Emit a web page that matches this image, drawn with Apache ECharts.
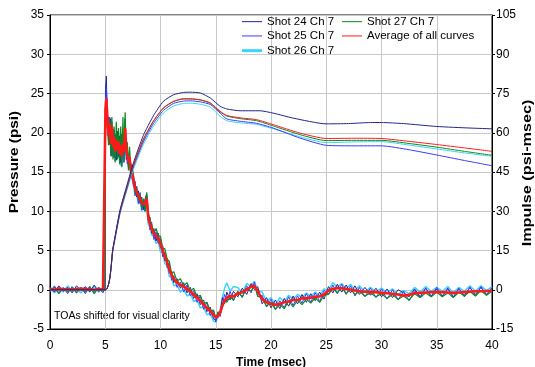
<!DOCTYPE html>
<html>
<head>
<meta charset="utf-8">
<script src="https://cdn.jsdelivr.net/npm/echarts@6/dist/echarts.min.js"></script>
<style>
  html, body { margin: 0; padding: 0; background: #fff; }
  #chart { width: 535px; height: 367px; }
</style>
</head>
<body>
<div id="chart"></div>
<script>
// time base (msec) shared by the pressure traces
const pTime = [
  0, 0.4, 0.8, 1.2, 1.6, 2.0, 2.4, 2.8, 3.2, 3.6, 4.0, 4.4, 4.8, 4.98,
  5.02, 5.1, 5.2, 5.3, 5.4, 5.5, 5.6, 5.7, 5.8, 5.9,
  6.0, 6.1, 6.2, 6.3, 6.4, 6.5, 6.6, 6.7, 6.8, 6.9,
  7.0, 7.1, 7.2, 7.3, 7.4,
  7.55, 7.7, 7.85, 8.0, 8.15, 8.3, 8.45, 8.6, 8.75, 8.9,
  9.05, 9.2, 9.4, 9.6, 9.8, 10.0, 10.2, 10.4, 10.6, 10.8,
  11.0, 11.2, 11.5, 11.8, 12.1, 12.4, 12.7, 13.0, 13.3, 13.6,
  13.9, 14.2, 14.5, 14.8, 15.0, 15.2, 15.4, 15.6, 15.8, 16.0,
  16.3, 16.6,
  17.0, 17.4, 17.8, 18.2, 18.5, 18.8, 19.2, 19.6, 20.0, 20.4,
  20.8, 21.2, 21.6, 22.0, 22.4, 22.8, 23.2, 23.6, 24.0, 24.4,
  24.8, 25.2, 25.6, 26.0, 26.4, 26.8, 27.2, 27.6, 28.0, 28.5,
  29.0, 29.5, 30.0, 30.5, 31.0, 31.5, 32.0, 32.5, 33.0, 33.5,
  34.0, 34.5, 35.0, 35.5, 36.0, 36.5, 37.0, 37.5, 38.0, 38.5,
  39.0, 39.5, 40.0
];

// pressure (psi)
const p24 = [
  0.4, -0.3, 0.5, -0.2, 0.3, -0.4, 0.5, -0.1, 0.4, -0.3, 0.6, -0.2, 0.3, -0.1,
  25.5, 27.2, 20.5, 22.0, 18.5, 21.8, 17.0, 20.5, 16.8, 19.8,
  16.5, 20.2, 17.0, 19.6, 16.2, 19.8, 17.2, 19.0, 21.8, 16.6,
  18.2, 15.6, 17.8, 14.6, 15.8,
  13.2, 13.8, 11.8, 12.6, 11.0, 11.8, 10.2, 11.6, 12.2, 8.6,
  9.2, 7.2, 7.8, 6.2, 7.2, 5.3, 5.6, 3.7, 4.0, 2.1,
  2.4, 0.9, 1.4, 0.2, 0.9, -0.4, 0.3, -1.1, -0.5, -1.9,
  -1.3, -2.8, -2.2, -3.7, -3.9, -2.8, -3.0, -1.0, -1.8, -0.3,
  -1.3, -0.2,
  -0.9, 0.2, -0.6, 0.8, 0.0, 0.4, -1.8, -1.0, -2.3, -1.3,
  -2.4, -1.1, -2.1, -0.8, -1.8, -0.6, -1.6, -0.5, -1.4, -0.3,
  -1.2, 0.4, -0.4, 0.7, -0.3, 0.6, -0.4, 0.5, -0.6, 0.3,
  -0.7, 0.2, -0.9, 0.1, -1.0, 0.0, -0.4, -0.9, 0.1, -0.9,
  0.2, -0.8, 0.1, -0.8, 0.2, -0.9, 0.1, -0.7, 0.3, -0.6,
  0.3, -0.6, 0.2
];
const p25 = [
  -0.3, 0.5, -0.4, 0.3, -0.5, 0.4, -0.2, 0.3, -0.5, 0.4, -0.3, 0.2, -0.4, 0.3,
  24.0, 25.8, 22.6, 18.6, 22.0, 17.4, 21.4, 17.0, 20.4, 16.4,
  19.6, 16.8, 19.8, 16.0, 19.0, 15.8, 19.4, 16.2, 20.2, 17.2,
  16.0, 17.0, 15.8, 16.2, 14.2,
  14.8, 12.0, 13.2, 11.0, 12.4, 10.2, 11.5, 10.0, 12.0, 9.8,
  7.6, 8.6, 6.4, 7.4, 5.9, 6.5, 4.2, 4.8, 2.8, 3.4,
  1.2, 1.8, 0.3, 1.0, -0.3, 0.6, -0.8, -0.1, -1.6, -0.8,
  -2.5, -1.6, -3.3, -2.6, -4.1, -3.0, -3.4, -1.9, -0.6, -1.5,
  -0.2, -1.4,
  -0.2, -1.0, 0.5, -0.4, 1.0, -0.9, -0.7, -2.2, -1.2, -2.5,
  -1.4, -2.3, -0.9, -2.0, -0.8, -1.7, -0.5, -1.6, -0.4, -1.5,
  -0.1, -0.6, 0.6, -0.5, 0.7, -0.6, 0.5, -0.8, 0.3, -0.9,
  0.2, -1.0, 0.1, -1.2, 0.0, -1.3, -0.2, -1.4, -0.1, -1.0,
  0.2, -0.9, 0.3, -0.9, 0.1, -1.0, 0.2, -0.9, 0.3, -0.8,
  0.4, -0.7, 0.3
];
const p26 = [
  0.2, -0.4, 0.3, -0.3, 0.5, -0.2, 0.2, -0.4, 0.3, -0.2, 0.4, -0.3, 0.2, 0.0,
  21.5, 23.0, 19.6, 21.0, 19.0, 20.0, 18.4, 19.6, 17.6, 18.8,
  17.0, 19.0, 16.8, 18.6, 15.8, 17.8, 16.2, 17.8, 19.6, 17.2,
  16.8, 15.6, 16.4, 14.8, 14.6,
  13.4, 12.0, 12.3, 10.9, 11.6, 10.0, 10.6, 9.9, 11.1, 8.3,
  8.0, 7.0, 6.8, 5.9, 6.2, 4.8, 4.7, 3.3, 3.2, 1.7,
  1.6, 0.5, 0.6, -0.3, 0.1, -0.8, -0.5, -1.5, -1.3, -2.3,
  -2.2, -3.2, -3.0, -4.0, -4.1, -3.5, -2.6, -1.0, 0.2, 0.9,
  -0.2, 0.4,
  0.3, -0.5, 0.8, 0.4, 1.1, -0.2, -0.3, -1.5, -1.0, -1.9,
  -1.0, -1.6, -0.7, -1.2, -0.6, -1.0, -0.4, -0.9, -0.3, -0.8,
  0.1, -0.1, 0.9, 0.3, 0.8, 0.1, 0.7, -0.1, 0.5, -0.3,
  0.3, -0.3, 0.2, -0.4, 0.1, -0.6, -0.1, -0.5, 0.3, -0.3,
  0.4, -0.2, 0.3, -0.2, 0.4, -0.4, 0.3, -0.2, 0.5, -0.2,
  0.5, -0.1, 0.4
];
const p27 = [
  -0.2, 0.3, -0.5, 0.2, -0.3, 0.3, -0.4, 0.2, -0.3, 0.4, -0.5, 0.3, -0.2, 0.2,
  22.4, 24.0, 21.0, 18.4, 21.6, 17.0, 22.0, 16.6, 20.8, 16.2,
  21.4, 16.6, 20.6, 16.0, 20.8, 15.6, 22.0, 16.4, 22.6, 17.4,
  18.8, 15.2, 18.2, 14.4, 16.0,
  14.6, 12.2, 13.0, 11.4, 12.2, 10.4, 11.6, 10.0, 12.4, 9.8,
  9.0, 8.9, 7.3, 7.8, 6.9, 6.8, 5.3, 5.2, 3.9, 3.6,
  2.1, 2.3, 1.1, 1.4, 0.5, 0.9, -0.2, 0.2, -0.9, -0.7,
  -1.8, -1.6, -2.7, -2.6, -3.6, -3.0, -3.1, -2.2, -1.4, -1.6,
  -0.9, -1.3,
  -0.2, -0.9, 0.2, -0.2, 0.6, -0.8, -1.1, -2.1, -1.6, -2.5,
  -1.9, -2.4, -1.4, -2.2, -1.3, -1.9, -1.2, -1.7, -1.0, -1.6,
  -0.7, -0.6, 0.2, -0.4, 0.3, -0.5, 0.1, -0.6, -0.2, -0.8,
  -0.4, -0.9, -0.5, -1.1, -0.6, -1.2, -0.8, -1.3, -0.5, -1.0,
  -0.4, -0.9, -0.3, -0.9, -0.4, -1.0, -0.3, -0.8, -0.2, -0.8,
  -0.1, -0.7, -0.2
];
const pAvg = [
  0.1, 0.0, 0.15, 0.05, 0.1, 0.0, 0.1, 0.15, 0.05, 0.1, 0.0, 0.1, 0.05, 0.1,
  23.0, 24.4, 21.8, 19.7, 21.2, 18.6, 20.8, 18.2, 19.5, 17.6,
  19.0, 17.8, 18.9, 17.3, 18.4, 17.0, 18.6, 17.6, 20.6, 18.0,
  17.2, 16.3, 16.9, 15.4, 15.0,
  14.0, 12.9, 12.4, 11.9, 11.6, 11.0, 10.8, 10.9, 11.6, 9.1,
  8.4, 7.8, 7.1, 6.8, 6.6, 5.8, 5.0, 4.2, 3.5, 2.6,
  1.9, 1.4, 0.9, 0.6, 0.4, 0.1, -0.2, -0.6, -1.0, -1.4,
  -1.9, -2.3, -2.7, -3.2, -3.5, -3.4, -2.9, -2.0, -1.4, -1.0,
  -0.8, -0.85,
  -0.5, -0.3, 0.0, 0.4, 0.5, -0.2, -1.2, -1.6, -1.8, -1.9,
  -1.8, -1.6, -1.5, -1.3, -1.3, -1.1, -1.05, -1.0, -0.9, -0.85,
  -0.6, -0.1, 0.1, 0.2, 0.2, 0.1, 0.0, -0.1, -0.2, -0.25,
  -0.3, -0.3, -0.4, -0.45, -0.5, -0.6, -0.75, -0.65, -0.45, -0.4,
  -0.35, -0.3, -0.3, -0.3, -0.35, -0.4, -0.35, -0.3, -0.25, -0.2,
  -0.2, -0.15, -0.15
];

// impulse (psi-msec), [time, value]
const i24 = [[0,0],[5.0,0],[5.7,16],[6.34,30.5],[7.0,40.5],[7.55,48.5],[8.45,59],[9.36,66.5],[10.26,72],[11.17,74.5],[12.07,75.4],[12.7,75.5],[13.6,75.2],[14.5,73.3],[15.4,70.1],[16.0,69.1],[17.2,68.4],[18.2,68.4],[19.0,68.4],[20.2,67.5],[22.0,65.6],[25.0,63.4],[27.0,63.5],[29.0,63.9],[30.0,63.9],[32.0,63.5],[35.0,62.4],[38.0,61.8],[40.0,61.5]];
const i25 = [[0,0],[5.0,0],[5.7,15.5],[6.34,29.5],[7.0,39.3],[7.55,47],[8.45,56.5],[9.36,63.5],[10.26,68.5],[11.17,71.2],[12.07,72.1],[12.7,72.2],[13.6,71.8],[14.5,70.8],[15.4,67.5],[16.0,65.3],[17.2,64.4],[18.7,63.6],[20.2,61.8],[22.6,58.0],[25.0,55.2],[27.5,55.0],[30.0,55.0],[32.5,53.5],[35.0,51.5],[37.5,49.4],[40.0,47.4]];
const i26 = [[0,0],[5.0,0],[5.7,15],[6.34,29],[7.0,38.5],[7.55,46],[8.45,55.5],[9.36,62.5],[10.26,67.5],[11.17,70.2],[12.07,71.2],[12.7,71.3],[13.6,70.9],[14.5,69.8],[15.4,66.3],[16.0,64.6],[17.2,63.8],[18.7,63.2],[20.2,61.5],[22.6,58.5],[25.0,56.2],[27.5,56.5],[30.0,56.6],[32.5,55.3],[35.0,53.8],[37.5,52.3],[40.0,51.0]];
const i27 = [[0,0],[5.0,0],[5.7,15.8],[6.34,30],[7.0,39.8],[7.55,47.5],[8.45,57.4],[9.36,64.4],[10.26,69.4],[11.17,71.9],[12.07,72.9],[12.7,72.9],[13.6,72.5],[14.5,71.3],[15.4,68.0],[16.0,66.4],[17.2,65.4],[18.7,64.6],[20.2,62.6],[22.6,59.3],[25.0,57.0],[27.5,57.1],[30.0,57.1],[32.5,55.9],[35.0,54.5],[37.5,52.9],[40.0,51.4]];
const iAvg = [[0,0],[5.0,0],[5.7,15.8],[6.34,30],[7.0,39.8],[7.55,47.5],[8.45,57.5],[9.36,64.5],[10.26,69.5],[11.17,72],[12.07,73],[12.7,73.0],[13.6,72.6],[14.5,71.4],[15.4,68.2],[16.0,66.6],[17.2,65.7],[18.7,65.0],[20.2,63.1],[22.6,59.9],[25.0,57.8],[27.5,57.9],[30.0,57.8],[32.5,56.7],[35.0,55.5],[37.5,54.2],[40.0,52.9]];

const names = ['Shot 24 Ch 7', 'Shot 25 Ch 7', 'Shot 26 Ch 7', 'Shot 27 Ch 7', 'Average of all curves'];
const colors = {
  'Shot 24 Ch 7': '#23238c',
  'Shot 25 Ch 7': '#3a3aff',
  'Shot 26 Ch 7': '#3cd2ff',
  'Shot 27 Ch 7': '#0a8a1e',
  'Average of all curves': '#ff1a1a'
};

const FONT = '"Liberation Sans", Arial, sans-serif';

function withTime(vals) {
  return pTime.map((t, i) => [t, vals[i]]);
}

function pressure(name, vals, width) {
  return {
    name: name, type: 'line', data: withTime(vals), symbol: 'none',
    lineStyle: {color: colors[name], width: width}, itemStyle: {color: colors[name]}
  };
}
function impulse(name, pts) {
  return {
    name: name, type: 'line', yAxisIndex: 1, data: pts, symbol: 'none',
    smooth: 0.2,
    lineStyle: {color: colors[name], width: 1}, itemStyle: {color: colors[name]}
  };
}

// small helper for the legend blocks (flat line icons)
function legendBlock(left, top, items, thick) {
  return {
    orient: 'vertical', left: left, top: top, padding: 0,
    icon: 'rect', itemWidth: 20, itemHeight: thick, itemGap: 1,
    textStyle: {color: '#000', fontSize: 11.5, fontFamily: FONT, lineHeight: 13.3},
    data: items
  };
}

const chart = echarts.init(document.getElementById('chart'));
chart.setOption({
  animation: false,
  grid: {left: 50, right: 43, top: 15, bottom: 38, containLabel: false,
         outerBoundsMode: 'none',
         show: true, borderColor: '#000', borderWidth: 1},
  legend: [
    legendBlock(242, 15, [names[0], names[1]], 1),
    legendBlock(242, 44, [names[2]], 3),
    legendBlock(342, 15, [names[3], names[4]], 1)
  ],
  xAxis: {
    type: 'value', min: 0, max: 40, interval: 5,
    name: 'Time (msec)', nameLocation: 'middle', nameGap: 19,
    nameTextStyle: {color: '#000', fontSize: 12, fontWeight: 'bold', fontFamily: FONT},
    axisLine: {onZero: false, lineStyle: {color: '#000'}},
    axisTick: {show: false},
    axisLabel: {color: '#000', fontSize: 12, fontFamily: FONT, margin: 11},
    splitLine: {lineStyle: {color: '#c8c8c8'}}
  },
  yAxis: [
    {
      type: 'value', min: -5, max: 35, interval: 5,
      axisLine: {show: true, onZero: false, lineStyle: {color: '#000'}},
      axisTick: {show: true, length: 3, lineStyle: {color: '#000'}},
      axisLabel: {color: '#000', fontSize: 12, fontFamily: FONT, margin: 6},
      splitLine: {lineStyle: {color: '#c8c8c8'}}
    },
    {
      type: 'value', min: -15, max: 105, interval: 15, position: 'right',
      axisLine: {show: true, onZero: false, lineStyle: {color: '#000'}},
      axisTick: {show: true, length: 3, lineStyle: {color: '#000'}},
      axisLabel: {color: '#000', fontSize: 12, fontFamily: FONT, margin: 4},
      splitLine: {show: false}
    }
  ],
  graphic: [
    {type: 'text', x: 15, y: 162, rotation: Math.PI / 2, scaleX: 1.28,
     style: {text: 'Pressure (psi)', fill: '#000', fontSize: 12, fontWeight: 'bold',
             fontFamily: FONT, align: 'center', verticalAlign: 'middle'}},
    {type: 'text', x: 528, y: 173, rotation: Math.PI / 2, scaleX: 1.35,
     style: {text: 'Impulse (psi-msec)', fill: '#000', fontSize: 12, fontWeight: 'bold',
             fontFamily: FONT, align: 'center', verticalAlign: 'middle'}},
    {type: 'text', left: 54, top: 311,
     style: {text: 'TOAs shifted for visual clarity', fill: '#000', fontSize: 10.5, fontFamily: FONT}}
  ],
  series: [
    pressure(names[2], p26, 1.5),
    pressure(names[0], p24, 1),
    pressure(names[1], p25, 1),
    pressure(names[3], p27, 1.2),
    pressure(names[4], pAvg, 2.6),
    impulse(names[2], i26),
    impulse(names[1], i25),
    impulse(names[3], i27),
    impulse(names[4], iAvg),
    impulse(names[0], i24)
  ]
});
</script>
</body>
</html>
